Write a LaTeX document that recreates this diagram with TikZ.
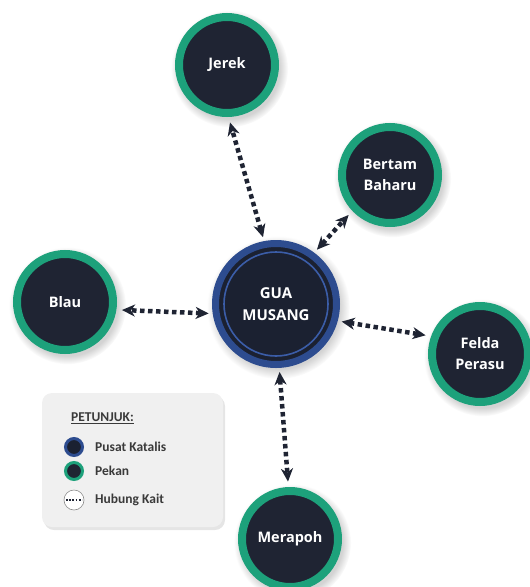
\documentclass[tikz,border=0pt]{standalone}
\usepackage{fontspec}
\setmainfont{Open Sans}
\newfontfamily\legfont{Carlito}
\usetikzlibrary{arrows.meta,shadows}
\definecolor{ringgreen}{HTML}{1DA17B}
\definecolor{core}{HTML}{1F2433}
\definecolor{hubblue}{HTML}{2D4C8F}
\definecolor{hubcore}{HTML}{1B2131}
\definecolor{hubinner}{HTML}{3B5DA8}
\definecolor{legbg}{HTML}{F0F0F0}
\definecolor{legtext}{HTML}{3A3A3A}
\begin{document}
\begin{tikzpicture}[x=1pt,y=-1pt,
  pekan/.style={circle, draw=ringgreen, line width=8pt, fill=core, minimum size=96pt,
    inner sep=0pt, outer sep=9.5pt, text=white, align=center,
    font=\bfseries\fontsize{14.5}{21}\selectfont,
    circular drop shadow={shadow scale=1.22, shadow xshift=2pt, shadow yshift=-3pt, opacity=0.35}},
  pusat/.style={circle, draw=hubblue, line width=7pt, fill=hubcore, minimum size=121pt,
    inner sep=0pt, outer sep=7.5pt, text=white, align=center,
    font=\bfseries\fontsize{15}{22}\selectfont,
    circular drop shadow={shadow scale=1.18, shadow xshift=2pt, shadow yshift=-3pt, opacity=0.35}},
  link/.style={draw=core, line width=4.5pt, dash pattern=on 4.5pt off 3.5pt,
    {Stealth[length=13pt,width=12pt,inset=4pt]}-{Stealth[length=13pt,width=12pt,inset=4pt]}},
  legitem/.style={anchor=west, text=legtext, font=\legfont\bfseries\fontsize{13.5}{16}\selectfont, inner sep=0pt},
  legicon/.style={circle, line width=3pt, minimum size=17pt, inner sep=0pt}
]
\useasboundingbox (0,0) rectangle (530,587);

% legend box
\fill[black!10, rounded corners=10pt] (44,396) rectangle (225,530);
\fill[legbg, rounded corners=10pt] (42,393) rectangle (223,527);
\node[legitem] (legtitle) at (71,418) {\underline{PETUNJUK:}};
\node[legicon, fill=hubcore, draw=hubblue] (legpusat) at (74,447) {};
\node[legicon, fill=core, draw=ringgreen] (legpekan) at (74,471) {};
\node[circle, fill=white, draw=black!45, line width=0.6pt, minimum size=20pt, inner sep=0pt] (leglink) at (74,500) {};
\draw[core, line width=1.8pt, dash pattern=on 1.8pt off 1.4pt] ([xshift=-8pt]leglink.center) -- ([xshift=8pt]leglink.center);
\node[legitem] (legt1) at (95,447) {Pusat Katalis};
\node[legitem] (legt2) at (95,471) {Pekan};
\node[legitem] (legt3) at (95,500) {Hubung Kait};

% nodes
\node[pusat] (gua) at (276,304) {GUA\\MUSANG};
\draw[hubinner, line width=1.6pt] (gua.center) circle (52pt);
\node[pekan] (jerek) at (227,65) {Jerek};
\node[pekan] (bertam) at (390,175) {Bertam\\Baharu};
\node[pekan] (blau) at (65,302) {Blau};
\node[pekan] (felda) at (480,354) {Felda\\Perasu};
\node[pekan] (merapoh) at (290,539) {Merapoh};

% links
\draw[link] (gua.101) -- (jerek.-87);
\draw[link] (gua.53) -- (bertam.-136);
\draw[link] (gua.-172) -- (blau.-8);
\draw[link] (gua.-15) -- (felda.161);
\draw[link] (gua.-87) -- (merapoh.92);
\end{tikzpicture}
\end{document}
